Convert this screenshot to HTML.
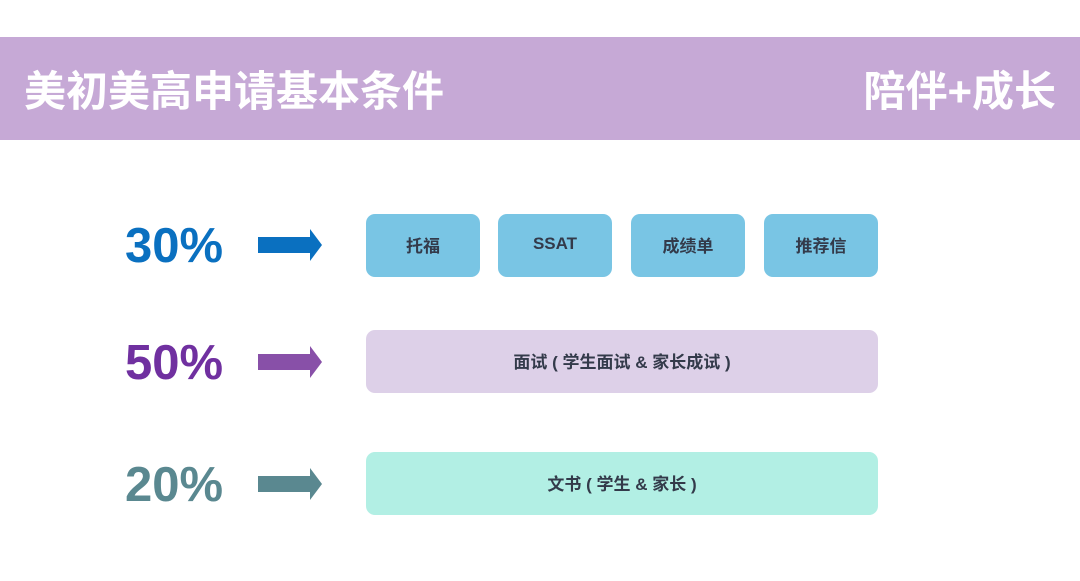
<!DOCTYPE html>
<html><head><meta charset="utf-8"><style>
body{margin:0;width:1080px;height:581px;background:#fff;position:relative;overflow:hidden;font-family:"Liberation Sans","Noto Sans CJK SC",sans-serif}
.hdr{position:absolute;left:0;top:37px;width:1080px;height:103px;background:#c6a9d6}
.t{position:absolute;color:#fff;font-weight:bold;font-size:42px;top:66px;line-height:52px}
.p{position:absolute;left:125px;font-size:49px;font-weight:bold;line-height:50px}
.b{position:absolute;border-radius:9px;display:flex;align-items:center;justify-content:center;font-weight:bold;font-size:17px;color:#333a4a;padding-bottom:3px;box-sizing:border-box}
svg{position:absolute;left:258px}
</style></head><body>
<div class="hdr"></div>
<div class="t" style="left:24px">美初美高申请基本条件</div>
<div class="t" style="right:24px">陪伴+成长</div>
<div class="p" style="top:221px;color:#0a70c0">30%</div>
<div class="p" style="top:338px;color:#7030a0">50%</div>
<div class="p" style="top:460px;color:#5a8890">20%</div>
<svg style="top:229px" width="64" height="32"><polygon points="0,8 52,8 52,0 64,16 52,32 52,24 0,24" fill="#0a70c0"/></svg>
<svg style="top:346px" width="64" height="32"><polygon points="0,8 52,8 52,0 64,16 52,32 52,24 0,24" fill="#8850a8"/></svg>
<svg style="top:468px" width="64" height="32"><polygon points="0,8 52,8 52,0 64,16 52,32 52,24 0,24" fill="#5a8890"/></svg>
<div class="b" style="left:366px;top:214px;width:114px;height:63px;background:#79c5e4">托福</div>
<div class="b" style="left:498px;top:214px;width:114px;height:63px;background:#79c5e4">SSAT</div>
<div class="b" style="left:631px;top:214px;width:114px;height:63px;background:#79c5e4">成绩单</div>
<div class="b" style="left:764px;top:214px;width:114px;height:63px;background:#79c5e4">推荐信</div>
<div class="b" style="left:366px;top:330px;width:512px;height:63px;background:#ddd0e8">面试 ( 学生面试 &amp; 家长成试 )</div>
<div class="b" style="left:366px;top:452px;width:512px;height:63px;background:#b2efe4">文书 ( 学生 &amp; 家长 )</div>
</body></html>
